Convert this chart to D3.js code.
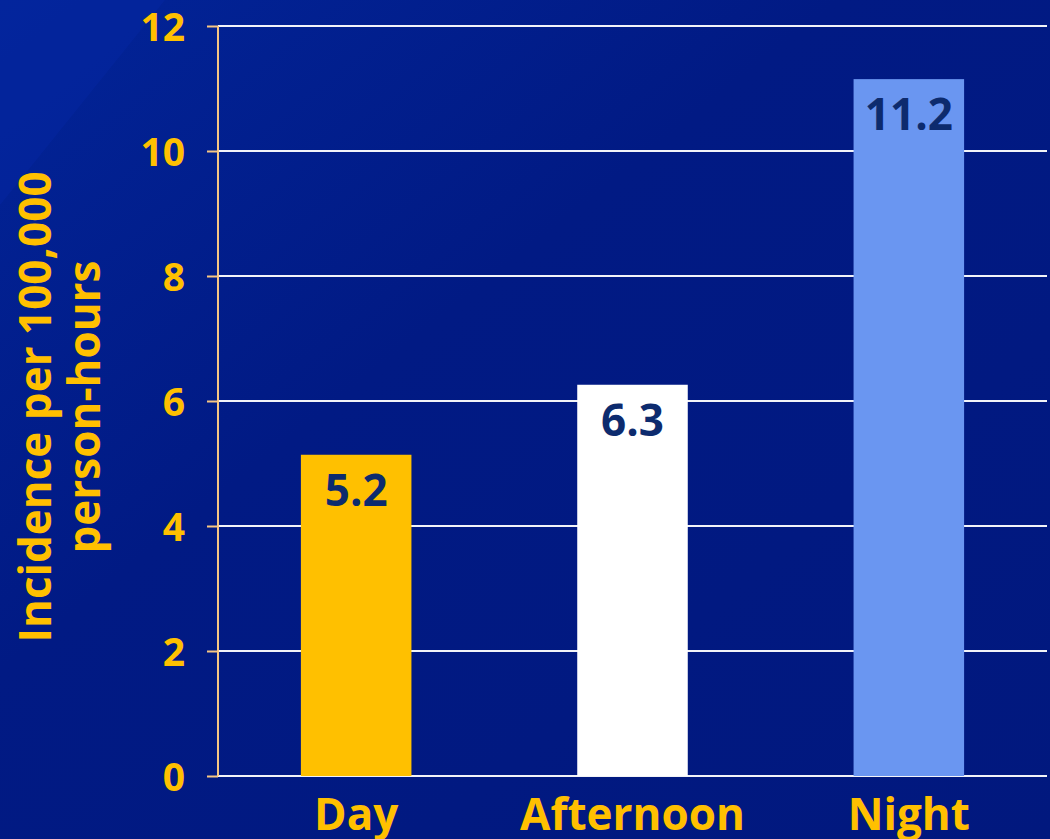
<!DOCTYPE html>
<html><head><meta charset="utf-8">
<script src="https://cdn.jsdelivr.net/npm/d3@7"></script>
<style>
html,body{margin:0;padding:0;background:#01187f;}
svg{display:block;}
</style></head>
<body>
<svg id="chart" width="1050" height="839"></svg>
<script>
const categories = ["Day", "Afternoon", "Night"];
const values = [5.14, 6.26, 11.15];
const valueLabels = ["5.2", "6.3", "11.2"];
const barColors = ["#ffc000", "#ffffff", "#6a96f1"];
const yTicks = [0, 2, 4, 6, 8, 10, 12];
const yTitle = ["Incidence per 100,000", "person-hours"];

const W = 1050, H = 839;
const margin = {left: 218, right: 3, top: 26, bottom: 63};
const svg = d3.select("#chart");
const font = "'Open Sans', 'Noto Sans', sans-serif";

// background
const defs = svg.append("defs");
const g1 = defs.append("linearGradient").attr("id","bg").attr("x1","0").attr("y1","0").attr("x2","1").attr("y2","1");
g1.append("stop").attr("offset","0").attr("stop-color","#022498");
g1.append("stop").attr("offset","0.4").attr("stop-color","#011a84");
g1.append("stop").attr("offset","1").attr("stop-color","#01187e");
svg.append("rect").attr("width",W).attr("height",H).attr("fill","url(#bg)");
svg.append("path").attr("d","M0,0 L165,0 L0,205 Z").attr("fill","#0627a0").attr("opacity",0.55);

const x = d3.scaleBand().domain(categories).range([margin.left, W - margin.right]).paddingInner(0.6).paddingOuter(0.3);
const y = d3.scaleLinear().domain([0, 12]).range([H - margin.bottom, margin.top]);

// gridlines
svg.append("g").selectAll("line").data(yTicks).join("line")
  .attr("x1", margin.left).attr("x2", W - margin.right)
  .attr("y1", d => y(d)).attr("y2", d => y(d))
  .attr("stroke", "#ffffff").attr("stroke-width", 2).attr("opacity", 0.95);

// bars
svg.append("g").selectAll("rect").data(categories).join("rect")
  .attr("x", d => x(d)).attr("width", x.bandwidth())
  .attr("y", (d,i) => y(values[i])).attr("height", (d,i) => y(0) - y(values[i]))
  .attr("fill", (d,i) => barColors[i]);

// value labels
svg.append("g").selectAll("text").data(categories).join("text")
  .attr("x", d => x(d) + x.bandwidth()/2)
  .attr("y", (d,i) => y(values[i]) + 51)
  .attr("text-anchor", "middle")
  .attr("font-family", font).attr("font-weight", 700).attr("font-size", 44)
  .attr("fill", "#0d2b6e")
  .text((d,i) => valueLabels[i]);

// y axis
const yAxis = svg.append("g").attr("transform", `translate(${margin.left},0)`)
  .call(d3.axisLeft(y).tickValues(yTicks).tickSize(11).tickPadding(22).tickFormat(d3.format("d")));
yAxis.select(".domain").attr("stroke", "#f6c683").attr("stroke-width", 2).attr("d", `M0,${y(12)}V${y(0)}`);
yAxis.selectAll(".tick line").attr("stroke", "#f6c683").attr("stroke-width", 2);
yAxis.selectAll(".tick text").attr("fill", "#ffc000").attr("font-family", font)
  .attr("font-weight", 700).attr("font-size", 39).attr("dy", "0.36em");

// x axis labels
svg.append("g").selectAll("text").data(categories).join("text")
  .attr("x", d => x(d) + x.bandwidth()/2)
  .attr("y", H - margin.bottom + 54)
  .attr("text-anchor", "middle")
  .attr("font-family", font).attr("font-weight", 700).attr("font-size", 44)
  .attr("fill", "#ffc000")
  .text(d => d);

// y title
const yt = svg.append("text").attr("transform", "translate(51,407) rotate(-90)")
  .attr("text-anchor", "middle").attr("font-family", font).attr("font-weight", 700)
  .attr("font-size", 44).attr("fill", "#ffc000");
yt.selectAll("tspan").data(yTitle).join("tspan")
  .attr("x", 0).attr("dy", (d,i) => i === 0 ? 0 : 49).text(d => d);
</script>
</body></html>
